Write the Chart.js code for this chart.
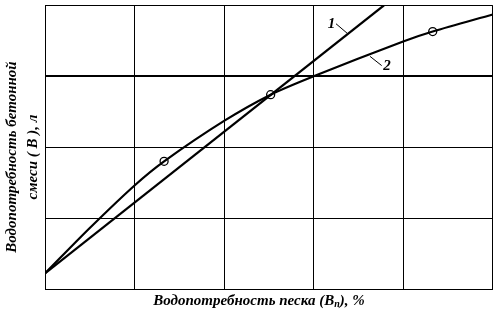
<!DOCTYPE html>
<html><head><meta charset="utf-8">
<script src="https://cdn.jsdelivr.net/npm/chart.js@4"></script>
<style>html,body{margin:0;padding:0;background:#fff}#w{width:498px;height:313px}</style>
</head><body><div id="w"><canvas id="c"></canvas></div>
<script>
const line1X = [0, 3.786];
const line1Y = [0.22, 4];
const curve2X = [0, 0.5, 1, 1.33, 2, 2.52, 3, 4, 4.33, 5];
const curve2Y = [0.22, 0.86, 1.46, 1.80, 2.37, 2.74, 3.0, 3.49, 3.63, 3.87];
const markerX = [1.33, 2.52, 4.33];
const markerY = [1.80, 2.74, 3.63];
const xTitle = "Водопотребность песка (В";
const xTitleSub = "п";
const xTitleEnd = "), %";
const yTitle = ["Водопотребность бетонной", "смеси ( В ), л"];
const curveLabels = [{t:"1", x:3.2, y:3.74, lx1:3.25, ly1:3.74, lx2:3.38, ly2:3.6},
                     {t:"2", x:3.82, y:3.14, lx1:3.63, ly1:3.28, lx2:3.76, ly2:3.15}];

const zip = (a,b)=>a.map((v,i)=>({x:v,y:b[i]}));
const font = "italic bold 15px 'Liberation Serif', 'DejaVu Serif', serif";
const subFont = "italic bold 10px 'Liberation Serif', 'DejaVu Serif', serif";

const textPlugin = {
  id:'txt',
  afterDraw(chart){
    const ctx = chart.ctx, xs = chart.scales.x, ys = chart.scales.y;
    ctx.save();
    ctx.fillStyle = '#000';
    ctx.font = font;
    ctx.textBaseline = 'middle';
    const w1 = ctx.measureText(xTitle).width;
    ctx.font = subFont;
    const w2 = ctx.measureText(xTitleSub).width;
    ctx.font = font;
    const w3 = ctx.measureText(xTitleEnd).width;
    let sx = 259 - (w1+w2+w3)/2, ty = 301;
    ctx.textAlign = 'left';
    ctx.fillText(xTitle, sx, ty);
    ctx.font = subFont;
    ctx.fillText(xTitleSub, sx + w1, ty + 3);
    ctx.font = font;
    ctx.fillText(xTitleEnd, sx + w1 + w2, ty);
    ctx.save();
    ctx.translate(12, 157);
    ctx.rotate(-Math.PI/2);
    ctx.textAlign = 'center';
    ctx.fillText(yTitle[0], 0, 0);
    ctx.fillText(yTitle[1], 0, 21);
    ctx.restore();
    ctx.textAlign = 'center';
    ctx.lineWidth = 1;
    ctx.strokeStyle = '#000';
    curveLabels.forEach(l=>{
      ctx.fillText(l.t, xs.getPixelForValue(l.x), ys.getPixelForValue(l.y));
      ctx.beginPath();
      ctx.moveTo(xs.getPixelForValue(l.lx1), ys.getPixelForValue(l.ly1));
      ctx.lineTo(xs.getPixelForValue(l.lx2), ys.getPixelForValue(l.ly2));
      ctx.stroke();
    });
    ctx.restore();
  }
};

new Chart(document.getElementById('c'), {
  type:'scatter',
  data:{datasets:[
    {data:zip(line1X,line1Y), showLine:true, borderColor:'#000', borderWidth:2.2, pointRadius:0, tension:0},
    {data:zip(curve2X,curve2Y), showLine:true, borderColor:'#000', borderWidth:2.2, pointRadius:0, tension:0.3},
    {data:zip(markerX,markerY), showLine:false, pointRadius:4, pointBackgroundColor:'#fff', pointBorderColor:'#000', pointBorderWidth:1.3}
  ]},
  options:{
    responsive:true, maintainAspectRatio:false, animation:false,
    layout:{padding:{left:45, right:3, top:2, bottom:24}},
    plugins:{legend:{display:false}, tooltip:{enabled:false}},
    scales:{
      x:{type:'linear', min:0, max:5, ticks:{display:false, stepSize:1}, grid:{color:'#000', lineWidth:1, drawTicks:false}, border:{color:'#000', width:1}},
      y:{type:'linear', min:0, max:4, ticks:{display:false, stepSize:1}, grid:{color:'#000', lineWidth:c=>c.index===3?2:1, drawTicks:false}, border:{color:'#000', width:1}}
    }
  },
  plugins:[textPlugin]
});
</script></body></html>
